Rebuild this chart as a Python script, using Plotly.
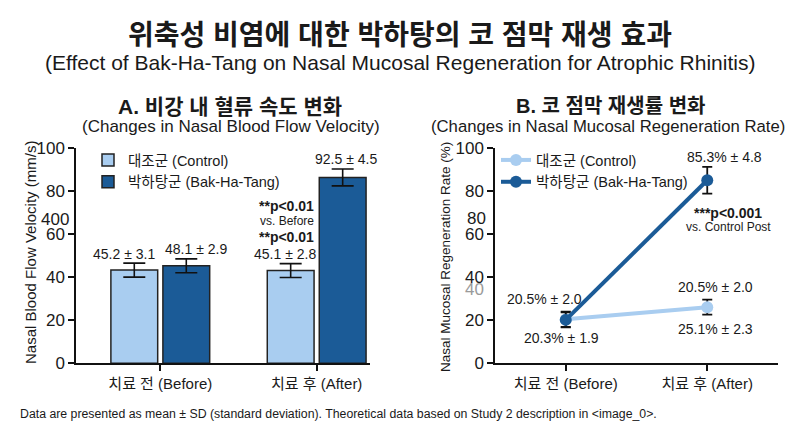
import plotly.graph_objects as go

# ---------------- data ----------------
categories = ["치료 전 (Before)", "치료 후 (After)"]

# Panel A: nasal blood flow velocity (bar heights as drawn, mm/s)
velocity_control = [43.2, 43.0]
velocity_control_sd = [3.25, 3.2]
velocity_bht = [45.2, 86.2]
velocity_bht_sd = [3.2, 3.9]
velocity_control_labels = ["45.2 ± 3.1", "45.1 ± 2.8"]
velocity_bht_labels = ["48.1 ± 2.9", "92.5 ± 4.5"]

# Panel B: nasal mucosal regeneration rate (%)
regen_control = [20.4, 26.0]
regen_control_sd = [3.5, 3.5]
regen_bht = [20.1, 84.9]
regen_bht_sd = [3.5, 6.2]

y_ticks = [0, 20, 40, 60, 80, 100]

# ---------------- style ----------------
FONT = "Liberation Sans, Arial, Noto Sans CJK KR, sans-serif"
TXT = "#1a1a1a"
LIGHT = "#a9cdf0"
DARK = "#1b5b97"

W, H = 800, 436
def px(x):
    return x / W
def py(y):
    return 1 - y / H

fig = go.Figure()

fig.add_trace(go.Bar(
    x=categories, y=velocity_control, name="대조군 (Control)",
    marker=dict(color=LIGHT, line=dict(color="#222222", width=1.5)),
    error_y=dict(type="data", array=velocity_control_sd, color="#111111", thickness=1.6, width=11),
    xaxis="x", yaxis="y", legend="legend", offsetgroup="c",
))
fig.add_trace(go.Bar(
    x=categories, y=velocity_bht, name="박하탕군 (Bak-Ha-Tang)",
    marker=dict(color=DARK, line=dict(color="#222222", width=1.5)),
    error_y=dict(type="data", array=velocity_bht_sd, color="#111111", thickness=1.6, width=11),
    xaxis="x", yaxis="y", legend="legend", offsetgroup="b",
))

fig.add_trace(go.Scatter(
    x=categories, y=regen_control, name="대조군 (Control)", mode="lines+markers",
    line=dict(color=LIGHT, width=4), marker=dict(color=LIGHT, size=12),
    error_y=dict(type="data", array=regen_control_sd, color="#111111", thickness=1.8, width=5),
    xaxis="x2", yaxis="y2", legend="legend2",
))
fig.add_trace(go.Scatter(
    x=categories, y=regen_bht, name="박하탕군 (Bak-Ha-Tang)", mode="lines+markers",
    line=dict(color=DARK, width=4), marker=dict(color=DARK, size=12),
    error_y=dict(type="data", array=regen_bht_sd, color="#111111", thickness=1.8, width=5),
    xaxis="x2", yaxis="y2", legend="legend2",
))

axis_common = dict(showline=True, linecolor="#111111", linewidth=1.5, ticks="outside",
                   ticklen=6, tickwidth=1.5, tickcolor="#111111", showgrid=False, zeroline=False,
                   automargin=False)
ytick_font = dict(family=FONT, size=17, color=TXT)
xtick_font = dict(family=FONT, size=15, color=TXT)

y_dom = [py(363.2), py(147.7)]
fig.update_layout(
    width=W, height=H, autosize=False, margin=dict(l=0, r=0, t=0, b=0, pad=0),
    paper_bgcolor="white", plot_bgcolor="white",
    font=dict(family=FONT, color=TXT),
    barmode="group", bargap=0.335, bargroupgap=0.1,
    xaxis=dict(domain=[px(76), px(370)], type="category", range=[-0.539, 1.341], anchor="y",
               tickfont=xtick_font, **axis_common),
    yaxis=dict(domain=y_dom, range=[0, 100], tickvals=y_ticks, anchor="x",
               tickfont=ytick_font, **axis_common),
    xaxis2=dict(domain=[px(495), px(778)], type="category", range=[-0.5, 1.5], anchor="y2",
                tickfont=xtick_font, **axis_common),
    yaxis2=dict(domain=y_dom, range=[0, 100], tickvals=y_ticks, anchor="x2",
                tickfont=ytick_font, **axis_common),
    legend=dict(x=px(88), y=py(144), xanchor="left", yanchor="top", bgcolor="rgba(0,0,0,0)",
                font=dict(family=FONT, size=14.5, color=TXT), tracegroupgap=0, itemwidth=30),
    legend2=dict(x=px(496), y=py(144), xanchor="left", yanchor="top", bgcolor="rgba(0,0,0,0)",
                 font=dict(family=FONT, size=14.5, color=TXT), tracegroupgap=0, itemwidth=30),
)

ann = []
def add(text, x, y, size, xref="paper", yref="paper", bold=False, color=TXT, xanchor="center", angle=0):
    ann.append(dict(text=("<b>%s</b>" % text) if bold else text, x=x, y=y, xref=xref, yref=yref,
                    showarrow=False, xanchor=xanchor, yanchor="middle", textangle=angle,
                    font=dict(family=FONT, size=size, color=color)))

# titles
add("위축성 비염에 대한 박하탕의 코 점막 재생 효과", 0.5, py(35), 28, bold=True)
add("(Effect of Bak-Ha-Tang on Nasal Mucosal Regeneration for Atrophic Rhinitis)", 0.5, py(62), 21)
add("A. 비강 내 혈류 속도 변화", px(230), py(106), 21, bold=True)
add("(Changes in Nasal Blood Flow Velocity)", px(231), py(127), 17)
add("B. 코 점막 재생률 변화", px(610), py(106), 20, bold=True)
add("(Changes in Nasal Mucosal Regeneration Rate)", px(608), py(127), 16.7)
add("Nasal Blood Flow Velocity (mm/s)", px(30), py(253), 15, angle=-90)
add("Nasal Mucosal Regeneration Rate (%)", px(445), py(257), 13.5, angle=-90)
add("Data are presented as mean ± SD (standard deviation). Theoretical data based on Study 2 description in &lt;image_0&gt;.",
    px(18), py(414), 12.3, xanchor="left")

# panel A value labels
add(velocity_control_labels[0], -0.23, 50.8, 14, "x", "y")
add(velocity_bht_labels[0], 0.23, 53.0, 14, "x", "y")
add(velocity_control_labels[1], 0.80, 50.8, 14, "x", "y")
add("**p<0.01", 0.81, 72.9, 14, "x", "y", bold=True)
add("vs. Before", 0.81, 66.0, 12, "x", "y")
add("**p<0.01", 0.81, 58.7, 14, "x", "y", bold=True)
add(velocity_bht_labels[1], 1.19, 94.6, 14, "x", "y")
add("400", px(71), 66.7, 17, "paper", "y", xanchor="right")

# panel B value labels
add("85.3% ± 4.8", 1.12, 95.8, 14, "x2", "y2")
add("***p<0.001", 1.15, 69.9, 14, "x2", "y2", bold=True)
add("vs. Control Post", 1.15, 63.4, 12, "x2", "y2")
add("20.5% ± 2.0", -0.15, 29.7, 14, "x2", "y2")
add("20.3% ± 1.9", -0.03, 11.9, 14, "x2", "y2")
add("20.5% ± 2.0", 1.06, 35.5, 14, "x2", "y2")
add("25.1% ± 2.3", 1.06, 15.8, 14, "x2", "y2")
add("80", px(488), 67.3, 17, "paper", "y2", xanchor="right")
add("40", px(486), 34.0, 17, "paper", "y2", xanchor="right", color="#9a9a9a")

fig.update_layout(annotations=ann)
fig.write_html("out.html", config={"displayModeBar": False},
               post_script="document.body.style.margin='0';document.body.style.overflow='hidden';")
